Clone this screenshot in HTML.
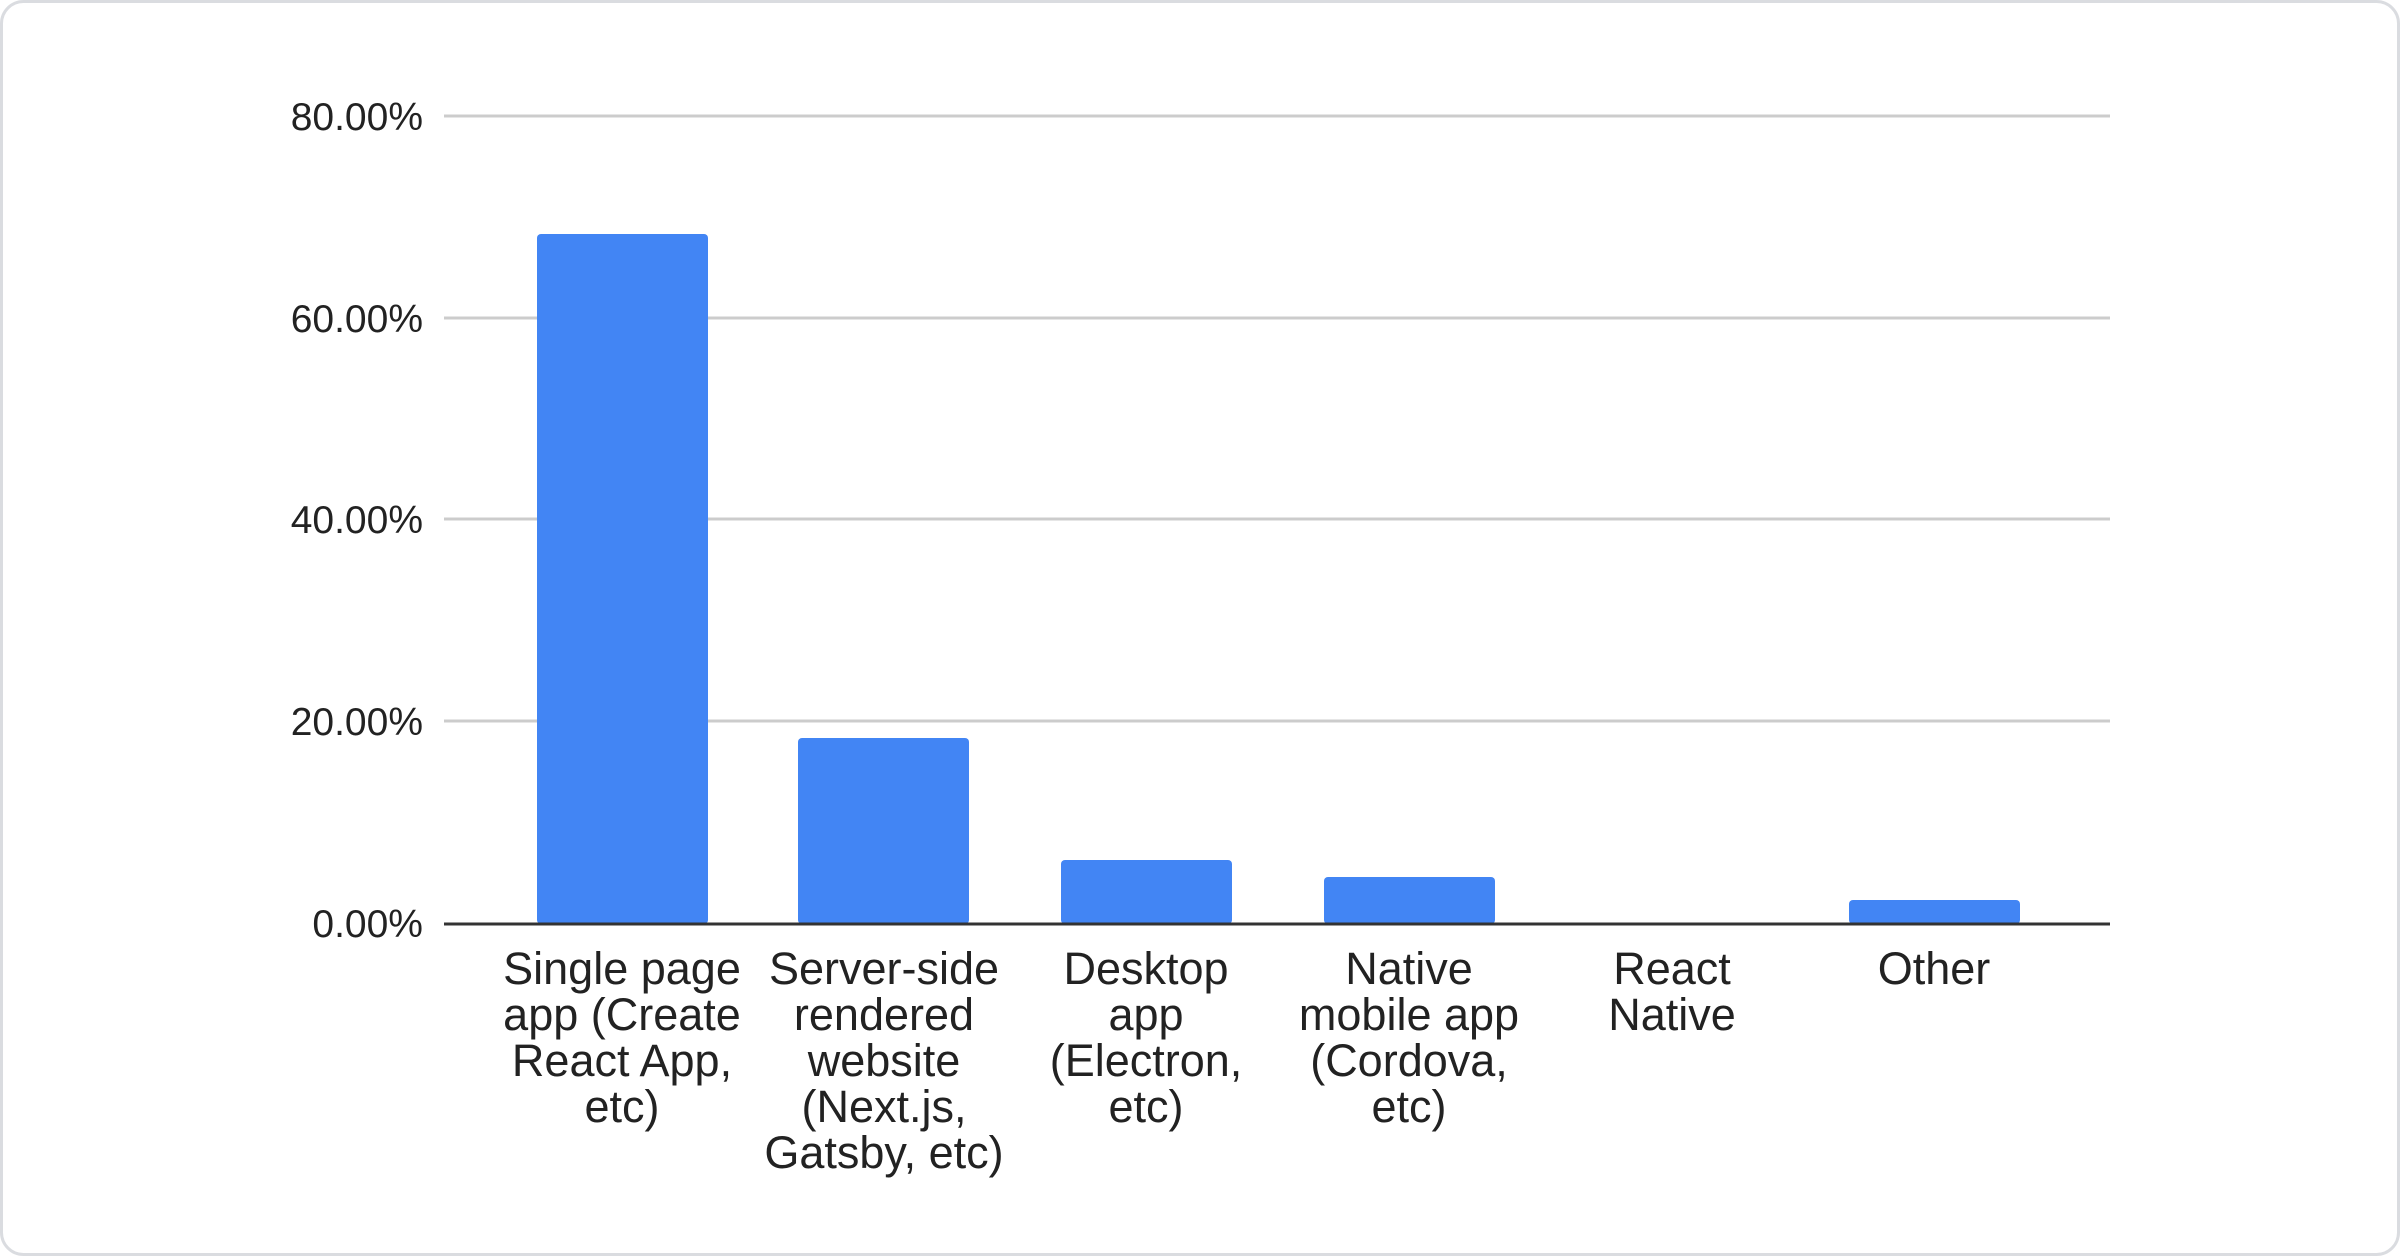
<!DOCTYPE html>
<html><head><meta charset="utf-8"><style>
html,body{margin:0;padding:0;background:#fff;}
svg{display:block;}
text{font-family:"Liberation Sans",Arial,sans-serif;fill:#222;}
</style></head><body>
<svg width="2400" height="1256" viewBox="0 0 2400 1256" xmlns="http://www.w3.org/2000/svg">
<rect x="1.5" y="1.5" width="2397" height="1253" rx="22" ry="22" fill="#fff" stroke="#dadce0" stroke-width="3"/>
<g stroke="#cccccc" stroke-width="3">
<line x1="444" y1="116" x2="2110" y2="116"/>
<line x1="444" y1="318" x2="2110" y2="318"/>
<line x1="444" y1="519" x2="2110" y2="519"/>
<line x1="444" y1="721" x2="2110" y2="721"/>
</g>
<g font-size="39" text-anchor="end">
<text x="423" y="130">80.00%</text>
<text x="423" y="332">60.00%</text>
<text x="423" y="533">40.00%</text>
<text x="423" y="735">20.00%</text>
<text x="423" y="937">0.00%</text>
</g>
<g fill="#4285f4">
<rect x="537" y="234" width="171" height="690" rx="4"/>
<rect x="798" y="738" width="171" height="186" rx="4"/>
<rect x="1061" y="860" width="171" height="64" rx="4"/>
<rect x="1324" y="877" width="171" height="47" rx="4"/>
<rect x="1849" y="900" width="171" height="24" rx="4"/>
</g>
<line x1="444" y1="924" x2="2110" y2="924" stroke="#333" stroke-width="3"/>
<g font-size="45" text-anchor="middle">
<text x="622" y="984">Single page</text><text x="622" y="1030">app (Create</text><text x="622" y="1076">React App,</text><text x="622" y="1122">etc)</text>
<text x="884" y="984">Server-side</text><text x="884" y="1030">rendered</text><text x="884" y="1076">website</text><text x="884" y="1122">(Next.js,</text><text x="884" y="1168">Gatsby, etc)</text>
<text x="1146" y="984">Desktop</text><text x="1146" y="1030">app</text><text x="1146" y="1076">(Electron,</text><text x="1146" y="1122">etc)</text>
<text x="1409" y="984">Native</text><text x="1409" y="1030">mobile app</text><text x="1409" y="1076">(Cordova,</text><text x="1409" y="1122">etc)</text>
<text x="1672" y="984">React</text><text x="1672" y="1030">Native</text>
<text x="1934" y="984">Other</text>
</g>
</svg>
</body></html>
